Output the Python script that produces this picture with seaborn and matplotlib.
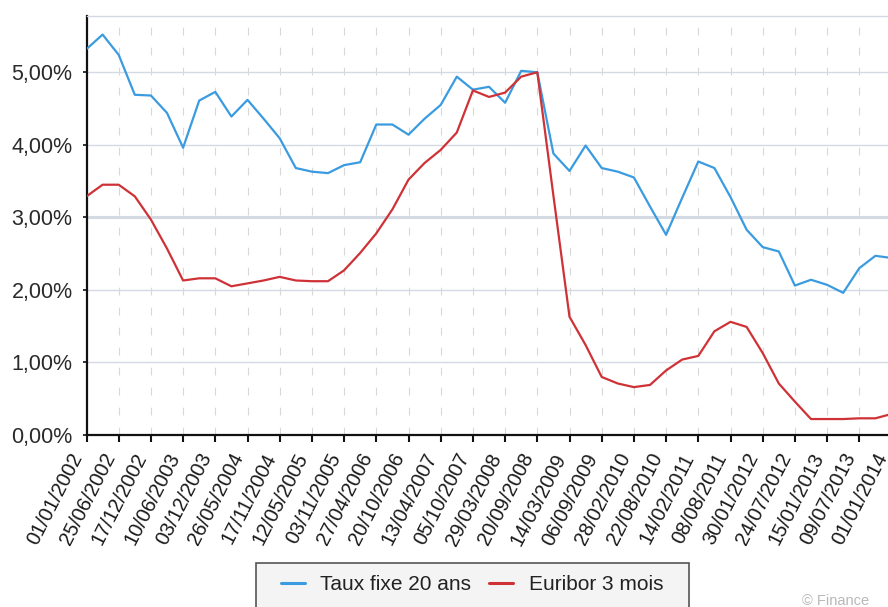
import numpy as np
import pandas as pd
import matplotlib
matplotlib.use("Agg")
import matplotlib.pyplot as plt
from matplotlib.patches import Rectangle
from matplotlib.transforms import ScaledTranslation
import seaborn as sns

# Axis labels shown under every second observation
tick_labels = [
    "01/01/2002", "25/06/2002", "17/12/2002", "10/06/2003", "03/12/2003",
    "26/05/2004", "17/11/2004", "12/05/2005", "03/11/2005", "27/04/2006",
    "20/10/2006", "13/04/2007", "05/10/2007", "29/03/2008", "20/09/2008",
    "14/03/2009", "06/09/2009", "28/02/2010", "22/08/2010", "14/02/2011",
    "08/08/2011", "30/01/2012", "24/07/2012", "15/01/2013", "09/07/2013",
    "01/01/2014",
]

# Rates in percent, one value per observation
taux_fixe_20_ans = [
    5.32, 5.52, 5.24, 4.69, 4.68, 4.44, 3.96, 4.61, 4.73, 4.39,
    4.62, 4.36, 4.09, 3.68, 3.63, 3.61, 3.72, 3.76, 4.28, 4.28,
    4.14, 4.36, 4.55, 4.94, 4.76, 4.80, 4.58, 5.02, 5.00, 3.88,
    3.64, 3.99, 3.68, 3.63, 3.55, 3.15, 2.76, 3.27, 3.77, 3.68,
    3.28, 2.83, 2.59, 2.53, 2.06, 2.14, 2.07, 1.96, 2.30, 2.47,
    2.44,
]
euribor_3_mois = [
    3.29, 3.45, 3.45, 3.29, 2.97, 2.57, 2.13, 2.16, 2.16, 2.05,
    2.09, 2.13, 2.18, 2.13, 2.12, 2.12, 2.27, 2.51, 2.78, 3.11,
    3.52, 3.75, 3.93, 4.17, 4.75, 4.66, 4.72, 4.94, 5.00, 3.30,
    1.63, 1.24, 0.80, 0.71, 0.66, 0.69, 0.89, 1.04, 1.09, 1.43,
    1.56, 1.49, 1.13, 0.71, 0.46, 0.22, 0.22, 0.22, 0.23, 0.23,
    0.29,
]
series_names = ["Taux fixe 20 ans", "Euribor 3 mois"]
series_colors = ["#3a9be0", "#cf3236"]

obs = np.arange(len(taux_fixe_20_ans))
df = pd.DataFrame({
    "obs": np.concatenate([obs, obs]),
    "taux": np.concatenate([taux_fixe_20_ans, euribor_3_mois]),
    "serie": [series_names[0]] * len(obs) + [series_names[1]] * len(obs),
})

sns.set_theme(style="white")
plt.rcParams["font.family"] = ["Liberation Sans", "DejaVu Sans"]

W, H = 888, 607
fig = plt.figure(figsize=(W / 100, H / 100), dpi=100)
left_px, right_px, top_px, bottom_px = 86.5, 891.5, 15.7, 435.0
ax = fig.add_axes([left_px / W, 1 - bottom_px / H,
                   (right_px - left_px) / W, (bottom_px - top_px) / H])

sns.lineplot(data=df, x="obs", y="taux", hue="serie",
             palette=dict(zip(series_names, series_colors)),
             linewidth=1.6, ax=ax, legend=False, zorder=3)

ax.set_xlim(0, len(obs) - 1)
ax.set_ylim(0, 5.78)

# grid
yticks = [0, 1, 2, 3, 4, 5]
for v in yticks[1:]:
    ax.axhline(v, color="#d4dae4", lw=2.2 if v == 3 else 1.0, zorder=1)
xt = np.arange(0, len(obs), 2)
for x in xt[1:]:
    ax.axvline(x, color="#d8d8d8", lw=0.8, dashes=(7, 11), zorder=1)

ax.set_xticks(xt)
ax.set_xticklabels(tick_labels, rotation=63, ha="right", va="center",
                   rotation_mode="anchor", fontsize=14.5, color="#1a1a1a")
ax.set_yticks(yticks)
ax.set_yticklabels([f"{v},00%" for v in yticks], fontsize=15.5, color="#2a2a2a")
ax.tick_params(axis="x", direction="out", length=5, width=1.5,
               color="#111111", pad=9, bottom=True)
ax.tick_params(axis="y", direction="out", length=3, width=1.2,
               color="#111111", pad=7, left=True)

# nudge the slanted date labels so they end just left of their tick
shift = ScaledTranslation(-6 / 72, 0, fig.dpi_scale_trans)
for lbl in ax.get_xticklabels():
    lbl.set_transform(lbl.get_transform() + shift)

ax.set_xlabel("")
ax.set_ylabel("")
for s in ("left", "bottom"):
    ax.spines[s].set_color("#111111")
    ax.spines[s].set_linewidth(1.6)
ax.spines["top"].set_color("#d4dae4")
ax.spines["top"].set_linewidth(1.0)
ax.spines["right"].set_visible(False)

# legend box
fig.patches.append(Rectangle((256 / W, 1 - 612 / H), (689 - 256) / W, (612 - 563) / H,
                             transform=fig.transFigure, facecolor="#f4f4f4",
                             edgecolor="#555555", linewidth=1.2, zorder=0))
handles = [plt.Line2D([], [], color=c, lw=2.2) for c in series_colors]
fig.legend(handles, series_names, loc="center", ncol=2,
           bbox_to_anchor=(472 / W, 1 - 585 / H), frameon=False,
           fontsize=15, handlelength=1.15, handletextpad=0.75,
           columnspacing=0.85, labelcolor="#222222")

fig.text(802 / W, 1 - 594 / H, "© Finance", fontsize=10.5, color="#b8b8b8",
         ha="left", va="top")

fig.savefig("out.png", dpi=100)
